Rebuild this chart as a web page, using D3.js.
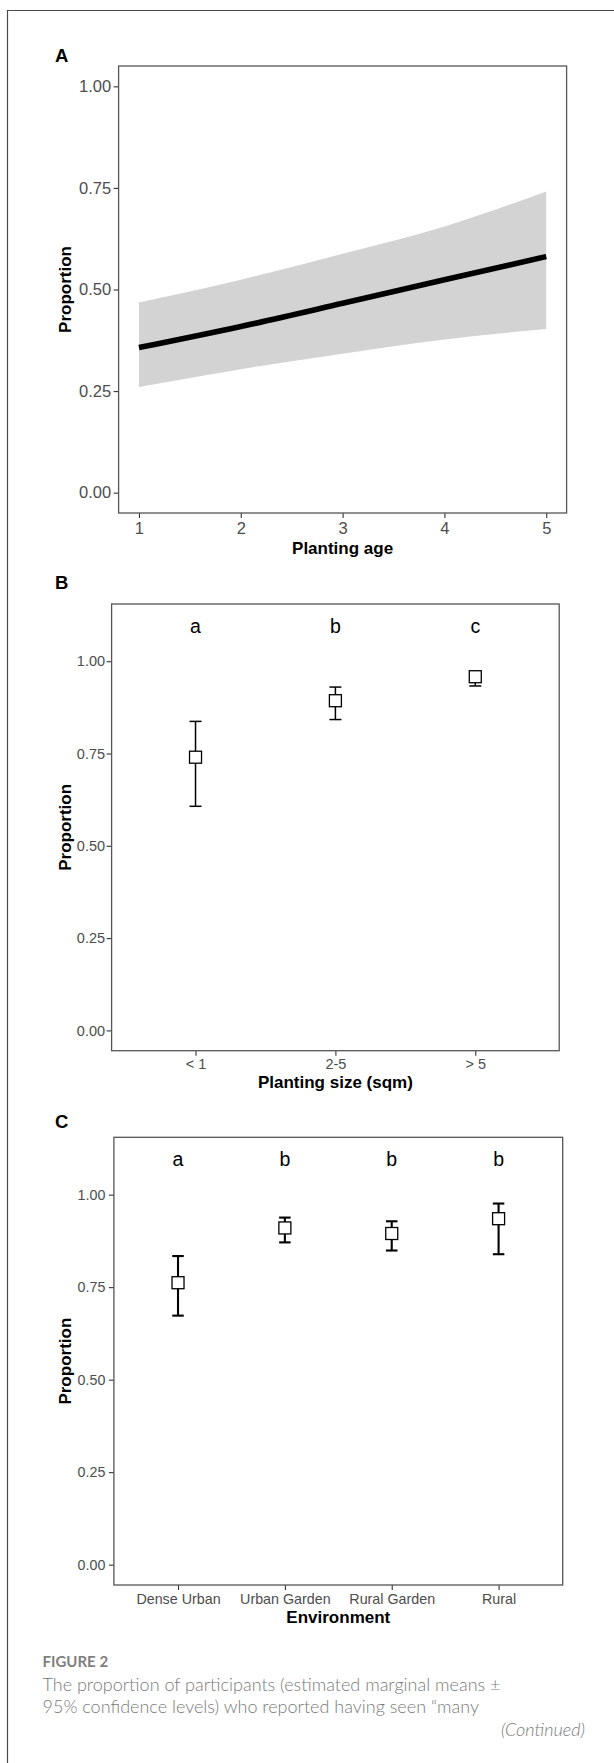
<!DOCTYPE html>
<html>
<head>
<meta charset="utf-8">
<script src="https://cdn.jsdelivr.net/npm/d3@7"></script>
<style>
  html, body { margin: 0; padding: 0; background: #fff; }
</style>
</head>
<body>
<div id="chart"></div>
<script>
// Figure 2 - three stacked panels of estimated marginal means (+ 95% CI)
// A: fitted proportion over planting age with a confidence ribbon
// B, C: point + error bar per category, with group letters above

const Y_TICKS = [0, 0.25, 0.5, 0.75, 1];

// Panel A - planting age
const AGE_X     = [1, 2, 3, 4, 5];
const AGE_FIT   = [0.357, 0.409, 0.466, 0.524, 0.581];
const AGE_LOWER = [0.260, 0.304, 0.342, 0.377, 0.403];
const AGE_UPPER = [0.468, 0.524, 0.588, 0.655, 0.741];

// Panel B - planting size
const SIZE_CATS   = ["< 1", "2-5", "> 5"];
const SIZE_MEAN   = [0.740, 0.893, 0.958];
const SIZE_LOWER  = [0.607, 0.842, 0.933];
const SIZE_UPPER  = [0.837, 0.930, 0.970];
const SIZE_GROUPS = ["a", "b", "c"];

// Panel C - environment
const ENV_CATS   = ["Dense Urban", "Urban Garden", "Rural Garden", "Rural"];
const ENV_MEAN   = [0.762, 0.910, 0.895, 0.935];
const ENV_LOWER  = [0.673, 0.871, 0.849, 0.839];
const ENV_UPPER  = [0.834, 0.938, 0.928, 0.976];
const ENV_GROUPS = ["a", "b", "b", "b"];

const GROUP_LABEL_Y = 1.1;

const FONT = "'Liberation Sans', Arial, Helvetica, sans-serif";
const CAPTION_FONT = "Lato, 'Open Sans', 'Noto Sans', sans-serif";

const W = 614, H = 1763;

const svg = d3.select("#chart")
  .append("svg")
    .attr("width", W)
    .attr("height", H);

svg.append("rect").attr("width", W).attr("height", H).attr("fill", "#fff");

// page frame (top + left rule)
svg.append("path")
  .attr("d", `M${W},10.5H7.5V${H}`)
  .attr("fill", "none")
  .attr("stroke", "#4a4a4a")
  .attr("stroke-width", 1.2);

// Shared pieces of every panel: box, axes, tag letter, titles
function panel(o) {
  const y = d3.scaleLinear().domain(o.yDomain).range([o.bottom, o.top]);

  svg.append("rect")
    .attr("x", o.left).attr("y", o.top)
    .attr("width", o.right - o.left).attr("height", o.bottom - o.top)
    .attr("fill", "#fff");

  const yAxis = svg.append("g")
    .attr("transform", `translate(${o.left},0)`)
    .call(d3.axisLeft(y)
      .tickValues(Y_TICKS)
      .tickFormat(d3.format(".2f"))
      .tickSize(5)
      .tickPadding(o.yPad));
  yAxis.select(".domain").remove();
  yAxis.selectAll(".tick line").attr("stroke", "#333").attr("stroke-width", 1.1);
  yAxis.selectAll("text")
    .attr("fill", "#4d4d4d")
    .attr("font-size", o.tickFont + "px")
    .attr("font-family", FONT);

  const xAxis = svg.append("g")
    .attr("transform", `translate(0,${o.bottom})`)
    .call(o.xAxis.tickSize(5).tickPadding(o.xPad));
  xAxis.select(".domain").remove();
  xAxis.selectAll(".tick line").attr("stroke", "#333").attr("stroke-width", 1.1);
  xAxis.selectAll("text")
    .attr("fill", "#4d4d4d")
    .attr("font-size", o.xTickFont + "px")
    .attr("font-family", FONT);

  // panel tag
  svg.append("text")
    .attr("x", 55).attr("y", o.tagY)
    .attr("font-size", "18.5px")
    .attr("font-weight", "bold")
    .attr("font-family", FONT)
    .attr("fill", "#000")
    .text(o.tag);

  // y title
  svg.append("text")
    .attr("transform", `translate(70.5,${(o.top + o.bottom) / 2}) rotate(-90)`)
    .attr("text-anchor", "middle")
    .attr("font-size", "17px")
    .attr("font-weight", "bold")
    .attr("font-family", FONT)
    .attr("fill", "#000")
    .text("Proportion");

  // x title
  svg.append("text")
    .attr("x", (o.left + o.right) / 2)
    .attr("y", o.xTitleY)
    .attr("text-anchor", "middle")
    .attr("font-size", "17px")
    .attr("font-weight", "bold")
    .attr("font-family", FONT)
    .attr("fill", "#000")
    .text(o.xTitle);

  return y;
}

function border(o) {
  svg.append("rect")
    .attr("x", o.left).attr("y", o.top)
    .attr("width", o.right - o.left).attr("height", o.bottom - o.top)
    .attr("fill", "none")
    .attr("stroke", "#555")
    .attr("stroke-width", 1.3);
}

// ---------- Panel A ----------
{
  const o = { left: 118.6, right: 566.6, top: 66, bottom: 513 };
  const x = d3.scaleLinear().domain([0.8, 5.2]).range([o.left, o.right]);
  const y = panel(Object.assign(o, {
    yDomain: [-0.05, 1.05], yPad: 2.5, tickFont: 16.5, xTickFont: 16.5, xPad: 4,
    xAxis: d3.axisBottom(x).tickValues(AGE_X).tickFormat(d3.format("d")),
    tag: "A", tagY: 61.5, xTitle: "Planting age", xTitleY: 554
  }));

  const rows = AGE_X.map((a, i) => ({ a, fit: AGE_FIT[i], lo: AGE_LOWER[i], hi: AGE_UPPER[i] }));

  svg.append("path")
    .datum(rows)
    .attr("fill", "#d3d3d3")
    .attr("d", d3.area()
      .curve(d3.curveMonotoneX)
      .x(d => x(d.a))
      .y0(d => y(d.lo))
      .y1(d => y(d.hi)));

  svg.append("path")
    .datum(rows)
    .attr("fill", "none")
    .attr("stroke", "#000")
    .attr("stroke-width", 5.6)
    .attr("d", d3.line()
      .curve(d3.curveMonotoneX)
      .x(d => x(d.a))
      .y(d => y(d.fit)));

  border(o);
}

// point + error bar panels
function categoryPanel(o, cats, mean, lower, upper, groups) {
  const x = d3.scalePoint().domain(cats).range([o.left, o.right]).padding(0.6);
  const y = panel(Object.assign(o, {
    yDomain: [-0.055, 1.155],
    xAxis: d3.axisBottom(x)
  }));

  cats.forEach((c, i) => {
    const cx = x(c);
    const g = svg.append("g").attr("stroke", "#000").attr("stroke-width", o.barWidth);
    g.append("line").attr("x1", cx).attr("x2", cx).attr("y1", y(upper[i])).attr("y2", y(lower[i]));
    g.append("line").attr("x1", cx - o.cap / 2).attr("x2", cx + o.cap / 2).attr("y1", y(upper[i])).attr("y2", y(upper[i]));
    g.append("line").attr("x1", cx - o.cap / 2).attr("x2", cx + o.cap / 2).attr("y1", y(lower[i])).attr("y2", y(lower[i]));

    svg.append("rect")
      .attr("x", cx - 6).attr("y", y(mean[i]) - 6)
      .attr("width", 12).attr("height", 12)
      .attr("fill", "#fff")
      .attr("stroke", "#000")
      .attr("stroke-width", 1.3);

    svg.append("text")
      .attr("x", cx)
      .attr("y", y(GROUP_LABEL_Y))
      .attr("dy", "0.45em")
      .attr("text-anchor", "middle")
      .attr("font-size", "19.5px")
      .attr("font-family", FONT)
      .attr("fill", "#000")
      .text(groups[i]);
  });

  border(o);
}

// ---------- Panel B ----------
categoryPanel({
  left: 111.6, right: 559.2, top: 604, bottom: 1050.7,
  yPad: 1.5, tickFont: 14.5, xTickFont: 14.5, xPad: 3.5,
  tag: "B", tagY: 589.3, xTitle: "Planting size (sqm)", xTitleY: 1088.3,
  barWidth: 1.5, cap: 12
}, SIZE_CATS, SIZE_MEAN, SIZE_LOWER, SIZE_UPPER, SIZE_GROUPS);

// ---------- Panel C ----------
categoryPanel({
  left: 113.9, right: 562.7, top: 1137.3, bottom: 1585,
  yPad: 3.5, tickFont: 14.3, xTickFont: 14.3, xPad: 3.5,
  tag: "C", tagY: 1128.3, xTitle: "Environment", xTitleY: 1622.7,
  barWidth: 2.1, cap: 11.5
}, ENV_CATS, ENV_MEAN, ENV_LOWER, ENV_UPPER, ENV_GROUPS);

// ---------- Caption ----------
svg.append("text")
  .attr("x", 42.5).attr("y", 1667.3)
  .attr("font-size", "15px")
  .attr("font-weight", "bold")
  .attr("font-family", CAPTION_FONT)
  .attr("fill", "#7f7f7f")
  .text("FIGURE 2");

const CAPTION_LINES = [
  "The proportion of participants (estimated marginal means \u00b1",
  "95% confidence levels) who reported having seen \u201cmany"
];

svg.selectAll(".caption")
  .data(CAPTION_LINES)
  .join("text")
    .attr("class", "caption")
    .attr("x", 42.5)
    .attr("y", (d, i) => 1690.5 + i * 22.5)
    .attr("font-size", "18px")
    .attr("font-weight", 300)
    .attr("font-family", CAPTION_FONT)
    .attr("fill", "#7a7a7a")
    .text(d => d);

svg.append("text")
  .attr("x", 585).attr("y", 1736)
  .attr("text-anchor", "end")
  .attr("font-size", "18px")
  .attr("font-weight", 300)
  .attr("font-style", "italic")
  .attr("font-family", CAPTION_FONT)
  .attr("fill", "#7a7a7a")
  .text("(Continued)");
</script>
</body>
</html>
